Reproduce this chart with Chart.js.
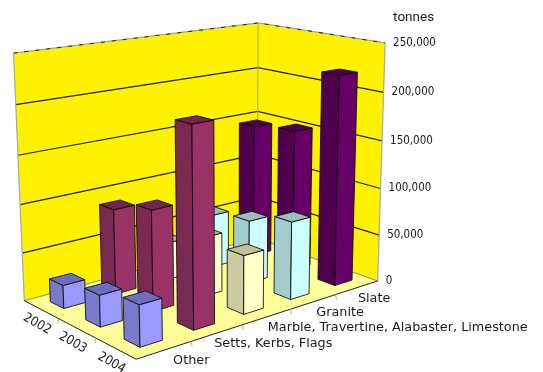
<!DOCTYPE html>
<html>
<head>
<meta charset="utf-8">
<style>html,body{margin:0;padding:0;background:#fff}canvas{display:block}</style>
<script src="https://cdn.jsdelivr.net/npm/chart.js@4/dist/chart.umd.min.js"></script>
</head>
<body>
<canvas id="c" width="543" height="372"></canvas>
<script>
const years = ['2002', '2003', '2004'];
const stones = ['Other', 'Setts, Kerbs, Flags', 'Marble, Travertine, Alabaster, Limestone', 'Granite', 'Slate'];
const other = [24000, 32000, 41000];
const setts = [89000, 103000, 198000];
const marble = [40000, 62000, 60000];
const granite = [58000, 67000, 81000];
const slate = [146000, 152000, 220000];
const seriesValues = [other, setts, marble, granite, slate];
const seriesFaces = [
  { front: '#9999ff', side: '#7a7acc', top: '#6e6ebf' },
  { front: '#993366', side: '#7a2952', top: '#73264d' },
  { front: '#ffffcc', side: '#cccca3', top: '#bfbf99' },
  { front: '#ccffff', side: '#a3cccc', top: '#99bfbf' },
  { front: '#660066', side: '#4f004f', top: '#4d004d' }
];
// Horizontal nudges that keep each long depth label clear of its neighbours
const stoneLabelNudge = [4, -8, -4, -2, -4];

// Projective camera fitted to the corners of the box (u: stones, w: years, h: value).
const boxCorners = [
  [0, 0, 0, 24, 301], [0, 1, 0, 136, 359], [1, 1, 0, 377, 281], [1, 0, 0, 258, 238],
  [0, 0, 1, 14, 53], [1, 0, 1, 257, 23], [1, 1, 1, 386, 43]
];
function fitCamera(pts) {
  const rows = [];
  pts.forEach(([u, w, h, X, Y]) => {
    rows.push([u, w, h, 1, 0, 0, 0, 0, -X * u, -X * w, -X * h, X]);
    rows.push([0, 0, 0, 0, u, w, h, 1, -Y * u, -Y * w, -Y * h, Y]);
  });
  const n = 11;
  const M = Array.from({ length: n }, (_, i) => Array.from({ length: n + 1 }, (_, j) =>
    rows.reduce((s, r) => s + r[i] * r[j], 0)));
  for (let i = 0; i < n; i++) {
    let best = i;
    for (let k = i + 1; k < n; k++) if (Math.abs(M[k][i]) > Math.abs(M[best][i])) best = k;
    [M[i], M[best]] = [M[best], M[i]];
    for (let k = 0; k < n; k++) {
      if (k === i) continue;
      const f = M[k][i] / M[i][i];
      for (let j = i; j <= n; j++) M[k][j] -= f * M[i][j];
    }
  }
  return M.map((r, i) => r[n] / r[i]);
}
const cam = fitCamera(boxCorners);
function project(u, w, h) {
  const d = cam[8] * u + cam[9] * w + cam[10] * h + 1;
  return [(cam[0] * u + cam[1] * w + cam[2] * h + cam[3]) / d,
          (cam[4] * u + cam[5] * w + cam[6] * h + cam[7]) / d];
}

function polygon(ctx, pts, fill, stroke) {
  ctx.beginPath();
  pts.forEach((p, i) => (i ? ctx.lineTo(p[0], p[1]) : ctx.moveTo(p[0], p[1])));
  ctx.closePath();
  if (fill) { ctx.fillStyle = fill; ctx.fill(); }
  if (stroke) { ctx.strokeStyle = stroke; ctx.lineWidth = 1; ctx.stroke(); }
}
function polyline(ctx, pts, stroke, width, dash) {
  ctx.beginPath();
  pts.forEach((p, i) => (i ? ctx.lineTo(p[0], p[1]) : ctx.moveTo(p[0], p[1])));
  ctx.strokeStyle = stroke;
  ctx.lineWidth = width || 1;
  ctx.setLineDash(dash || []);
  ctx.stroke();
  ctx.setLineDash([]);
}

// Replaces the flat bars with prisms standing in the projected box.
const box3d = {
  id: 'box3d',
  beforeDatasetsDraw(chart) {
    const { ctx, chartArea: a, scales } = chart;
    const U = i => (scales.s.getPixelForValue(i) - a.left) / a.width;
    const W = j => (scales.x.getPixelForValue(j) - a.left) / a.width;
    const H = v => (a.bottom - scales.y.getPixelForValue(v)) / a.height;
    const du = 0.41 / stones.length / 2 * 1;
    const dw = 0.39 / years.length / 2 * 1;

    // Floor and walls
    ctx.save();
    polygon(ctx, [project(0, 0, 0), project(0, 1, 0), project(1, 1, 0), project(1, 0, 0)], '#ffff99');
    polygon(ctx, [project(0, 0, 0), project(1, 0, 0), project(1, 0, 1), project(0, 0, 1)], '#fff200');
    polygon(ctx, [project(1, 0, 0), project(1, 1, 0), project(1, 1, 1), project(1, 0, 1)], '#fff200');

    // Value gridlines wrap around both walls
    scales.y.ticks.forEach(t => {
      const h = H(t.value);
      if (t.value === 0) return;
      const line = [project(0, 0, h), project(1, 0, h), project(1, 1, h)];
      if (h < 1) polyline(ctx, line, '#1c1c00', 1.2);
    });
    const rim = [project(0, 0, 1), project(1, 0, 1), project(1, 1, 1)];
    polyline(ctx, rim, '#a0a0a0', 1.2);
    polyline(ctx, rim, '#222', 1, [4, 7]);
    polyline(ctx, [project(0, 0, 0), project(0, 0, 1)], '#a8a8a8', 1.2);
    polyline(ctx, [project(1, 1, 0), project(1, 1, 1)], '#a8a8a8', 1.2);
    polyline(ctx, [project(1, 0, 0), project(1, 0, 1)], '#b0a860', 1);
    polyline(ctx, [project(0, 0, 0), project(1, 0, 0), project(1, 1, 0)], '#8c8c60', 1);
    polyline(ctx, [project(0, 0, 0), project(0, 1, 0), project(1, 1, 0)], '#222', 1);

    // Short ticks under the two front edges
    for (let i = 1; i < stones.length; i++) {
      const p = project(i / stones.length, 1, 0);
      polyline(ctx, [p, [p[0] + 1, p[1] + 5]], '#aaa', 1);
    }
    for (let j = 1; j < years.length; j++) {
      const p = project(0, j / years.length, 0);
      polyline(ctx, [p, [p[0] - 1, p[1] + 5]], '#aaa', 1);
    }

    // Painter's order: far stones first, then back years to front years
    for (let i = stones.length - 1; i >= 0; i--) {
      const faces = seriesFaces[i];
      const values = chart.data.datasets[i].data;
      years.forEach((_, j) => {
        const u = U(i), w = W(j), h = H(values[j]);
        const u0 = u - du, u1 = u + du, w0 = w - dw, w1 = w + dw;
        const edge = 'rgba(10,10,10,0.85)';
        polygon(ctx, [project(u0, w0, 0), project(u0, w1, 0), project(u0, w1, h), project(u0, w0, h)], faces.side, edge);
        polygon(ctx, [project(u0, w1, 0), project(u1, w1, 0), project(u1, w1, h), project(u0, w1, h)], faces.front, edge);
        polygon(ctx, [project(u0, w0, h), project(u0, w1, h), project(u1, w1, h), project(u1, w0, h)], faces.top, edge);
      });
    }

    // Axis text
    ctx.fillStyle = '#1a1a1a';
    ctx.textBaseline = 'middle';
    ctx.textAlign = 'left';
    ctx.font = '11.5px "DejaVu Sans Condensed", "DejaVu Sans"';
    scales.y.ticks.forEach(t => {
      const p = project(1, 1, H(t.value));
      ctx.fillText(t.label, p[0] + 8, p[1]);
    });
    ctx.font = '13.5px Roboto';
    const top = project(1, 1, 1);
    ctx.fillText(scales.y.options.title.text, top[0] + 8, 18);

    ctx.font = '12.8px "DejaVu Sans"';
    stones.forEach((name, i) => {
      const p = project(U(i), 1, 0);
      ctx.fillText(name, p[0] + 5 + stoneLabelNudge[i], p[1] + 11);
    });
    ctx.font = '13px "DejaVu Sans Condensed"';
    ctx.textAlign = 'center';
    years.forEach((y, j) => {
      const p = project(0, W(j), 0);
      ctx.save();
      ctx.translate(p[0] - 4, p[1] + 14.5);
      ctx.rotate(30 * Math.PI / 180);
      ctx.fillText(y, 0, 0);
      ctx.restore();
    });
    ctx.restore();
    return false;
  }
};

new Chart(document.getElementById('c'), {
  type: 'bar',
  data: {
    labels: years,
    datasets: stones.map((name, i) => ({
      label: name,
      data: seriesValues[i],
      backgroundColor: seriesFaces[i].front
    }))
  },
  options: {
    responsive: false,
    animation: false,
    layout: { padding: 0 },
    plugins: { legend: { display: false }, tooltip: { enabled: false } },
    scales: {
      x: { display: false, offset: true },
      s: { type: 'category', axis: 'x', labels: stones, offset: true, display: false },
      y: {
        display: false,
        min: 0,
        max: 250000,
        title: { text: 'tonnes' },
        ticks: { stepSize: 50000, callback: v => v.toLocaleString('en-US') }
      }
    }
  },
  plugins: [box3d]
});
</script>
</body>
</html>
